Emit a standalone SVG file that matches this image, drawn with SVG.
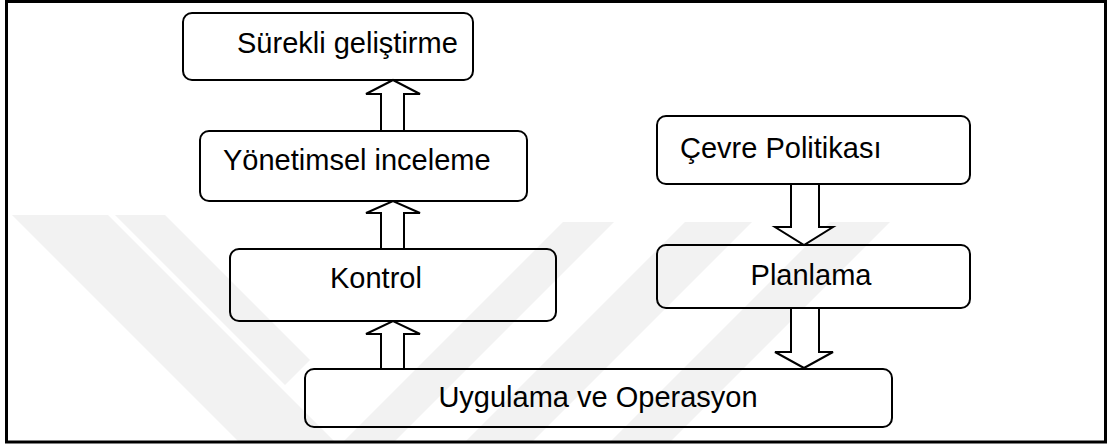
<svg xmlns="http://www.w3.org/2000/svg" width="1113" height="444" viewBox="0 0 1113 444">
  <style>
    .box { fill: none; stroke: #000; stroke-width: 2; }
    .lbl { font-family: "Liberation Sans", Arial, sans-serif; font-size: 29px; fill: #000; }
    .arrow { fill: #fff; stroke: #000; stroke-width: 2; stroke-linejoin: miter; }
    .wm { fill: #f2f2f2; }
  </style>
  <rect x="0" y="0" width="1113" height="444" fill="#fff"/>

  <!-- faint background emblem -->
  <g id="emblem">
    <polygon class="wm" points="12,215 108,215 335,442 239,442"/>
    <polygon class="wm" points="115,215 165,215 310,360 285,385"/>
    <polygon class="wm" points="563,222 614,222 394,442 343,442"/>
    <polygon class="wm" points="685,222 752,222 532,442 465,442"/>
    <polygon class="wm" points="830,222 890,222 670,442 610,442"/>
  </g>

  <!-- outer frame -->
  <rect x="6.5" y="1.5" width="1099" height="440.5" fill="none" stroke="#000" stroke-width="3"/>

  <g id="connectors">
    <polygon class="arrow" points="381,131 381,94 366,94 393,80 420,94 404,94 404,131"/>
    <polygon class="arrow" points="381,249 381,213 366,213 393,201 420,213 404,213 404,249"/>
    <polygon class="arrow" points="381,369 381,334 366,334 393,321 420,334 404,334 404,369"/>
    <polygon class="arrow" points="791,184 791,227 775,227 804,245 833,227 819,227 819,184"/>
    <polygon class="arrow" points="791,308 791,352 775,352 804,368 833,352 819,352 819,308"/>
  </g>

  <g id="surekli">
    <rect class="box" x="183" y="13" width="290" height="67" rx="9"/>
    <text class="lbl" x="237" y="53">Sürekli geliştirme</text>
  </g>
  <g id="yonetimsel">
    <rect class="box" x="200" y="131" width="327" height="70" rx="9"/>
    <text class="lbl" x="223" y="170">Yönetimsel inceleme</text>
  </g>
  <g id="kontrol">
    <rect class="box" x="230" y="249" width="326" height="72" rx="9"/>
    <text class="lbl" x="330" y="288">Kontrol</text>
  </g>
  <g id="cevre">
    <rect class="box" x="657" y="116" width="313" height="68" rx="9"/>
    <text class="lbl" x="680" y="158">Çevre Politikası</text>
  </g>
  <g id="planlama">
    <rect class="box" x="657" y="245" width="313" height="63" rx="9"/>
    <text class="lbl" x="811" y="285" text-anchor="middle">Planlama</text>
  </g>
  <g id="uygulama">
    <rect class="box" x="305" y="369" width="587" height="58" rx="9"/>
    <text class="lbl" x="598" y="407" text-anchor="middle">Uygulama ve Operasyon</text>
  </g>
</svg>
